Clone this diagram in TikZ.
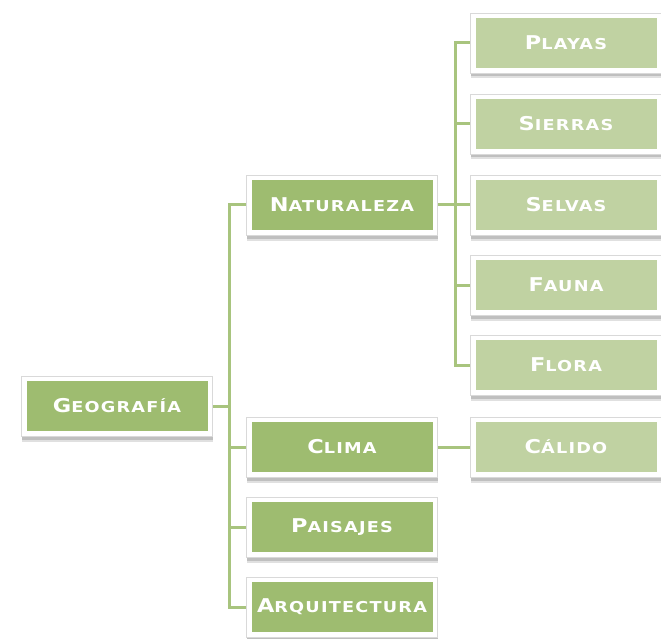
\documentclass[tikz,border=0pt]{standalone}
\usepackage{fontspec}
\usetikzlibrary{shadows,backgrounds}
\newfontfamily\boxfont[FakeStretch=1.18,LetterSpace=8]{DejaVu Sans Bold}
\newcommand\fsc[2]{{\fontsize{19}{19}\selectfont #1}{\fontsize{15}{15}\selectfont #2}}
\definecolor{darkg}{RGB}{158,188,112}
\definecolor{lightg}{RGB}{192,210,162}
\definecolor{lineg}{RGB}{168,196,126}
\tikzset{
  box/.style={rectangle, inner sep=0pt, minimum width=191pt, minimum height=60pt,
    draw=black!15, line width=0.6pt, fill=white,
    text=white, font=\boxfont,
    path picture={\fill[#1] ([shift={(5pt,5pt)}]path picture bounding box.south west)
       rectangle ([shift={(-5pt,-5pt)}]path picture bounding box.north east);},
    drop shadow={shadow xshift=0.5pt, shadow yshift=-5.5pt, opacity=0.12, fill=black},
    drop shadow={shadow xshift=0.5pt, shadow yshift=-3.5pt, opacity=0.15, fill=black}},
  mainbox/.style={box=darkg},
  subbox/.style={box=lightg},
  conn/.style={draw=lineg, line width=3pt, line join=miter}
}
\begin{document}
\begin{tikzpicture}[x=1pt,y=-1pt]
\useasboundingbox (0,0) rectangle (661,639);
\node[mainbox] (geo) at (117,406) {\fsc{G}{EOGRAFÍA}};
\node[mainbox] (nat) at (342,205) {\fsc{N}{ATURALEZA}};
\node[mainbox] (cli) at (342,447) {\fsc{C}{LIMA}};
\node[mainbox] (pai) at (342,527) {\fsc{P}{AISAJES}};
\node[mainbox] (arq) at (342,607) {\fsc{A}{RQUITECTURA}};
\node[subbox] (pla) at (566,43) {\fsc{P}{LAYAS}};
\node[subbox] (sie) at (566,124) {\fsc{S}{IERRAS}};
\node[subbox] (sel) at (566,205) {\fsc{S}{ELVAS}};
\node[subbox] (fau) at (566,285) {\fsc{F}{AUNA}};
\node[subbox] (flo) at (566,365) {\fsc{F}{LORA}};
\node[subbox] (cal) at (566,447) {\fsc{C}{ÁLIDO}};
\coordinate (b1) at (229,0);
\coordinate (b2) at (455,0);
\begin{scope}[on background layer]
\draw[conn] (geo.east) -- (geo.east -| b1);
\draw[conn] (nat.west) -- (nat.west -| b1) -- (arq.west -| b1) -- (arq.west);
\draw[conn] (cli.west -| b1) -- (cli.west);
\draw[conn] (pai.west -| b1) -- (pai.west);
\draw[conn] (nat.east) -- (sel.west);
\draw[conn] (pla.west) -- (pla.west -| b2) -- (flo.west -| b2) -- (flo.west);
\draw[conn] (sie.west -| b2) -- (sie.west);
\draw[conn] (fau.west -| b2) -- (fau.west);
\draw[conn] (cli.east) -- (cal.west);
\end{scope}
\end{tikzpicture}
\end{document}
